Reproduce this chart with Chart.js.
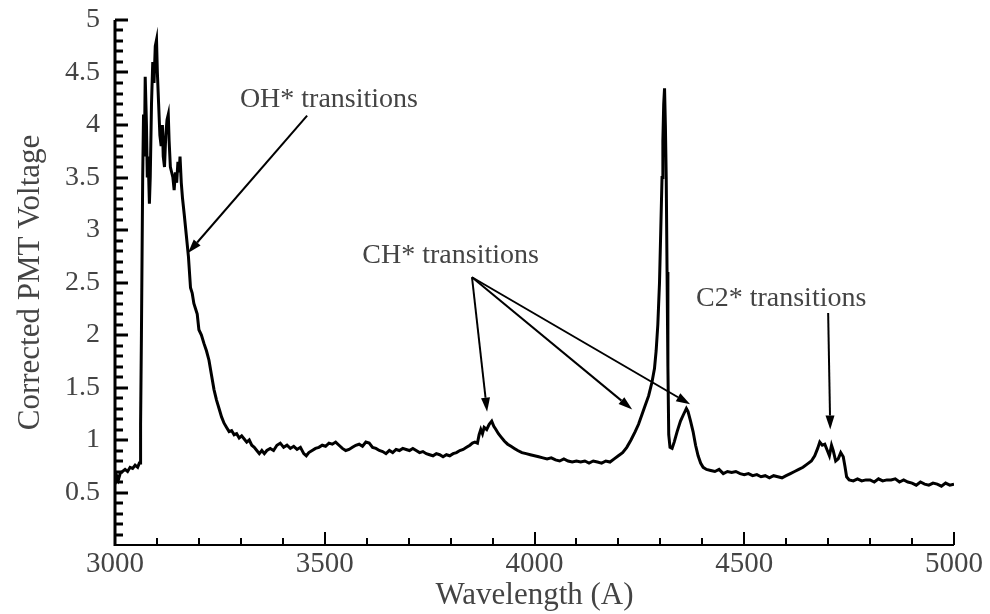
<!DOCTYPE html>
<html>
<head>
<meta charset="utf-8">
<script src="https://cdn.jsdelivr.net/npm/chart.js@4.4.1/dist/chart.umd.min.js"></script>
<style>
  body { margin: 0; background: #fff; }
  canvas { display: block; }
</style>
</head>
<body>
<canvas id="grafico" width="990" height="614"></canvas>
<script>
// comprimentos de onda (A)
const wl = [
  3000, 3004, 3008, 3013, 3018, 3024, 3030, 3036, 3042, 3048, 3054, 3058, 3060, 3061, 3063,
  3066, 3068, 3070, 3072, 3075, 3077, 3079, 3082, 3084, 3087, 3090, 3093, 3096, 3099, 3101,
  3104, 3107, 3110, 3113, 3115, 3118, 3121, 3124, 3127, 3129, 3132, 3135, 3138, 3141, 3144,
  3147, 3150, 3153, 3155, 3158, 3161, 3165, 3170, 3175, 3180, 3184, 3188, 3192, 3196, 3200,
  3206, 3212, 3218, 3224, 3230, 3236, 3242, 3248, 3254, 3260, 3266, 3272, 3278, 3284, 3290,
  3296, 3302, 3308, 3314, 3320, 3326, 3332, 3338, 3344, 3350, 3356, 3362, 3370, 3378, 3386,
  3394, 3402, 3410, 3418, 3426, 3434, 3442, 3450, 3456, 3462, 3470, 3478, 3486, 3494, 3502,
  3510, 3518, 3526, 3534, 3542, 3550, 3558, 3566, 3574, 3582, 3590, 3598, 3606, 3614, 3622,
  3630, 3638, 3646, 3654, 3662, 3670, 3678, 3686, 3694, 3702, 3710, 3718, 3726, 3734, 3742,
  3750, 3758, 3766, 3774, 3782, 3790, 3798, 3806, 3814, 3822, 3830, 3838, 3846, 3852, 3858,
  3864, 3868, 3872, 3876, 3880, 3886, 3892, 3898, 3903, 3908, 3914, 3920, 3928, 3936, 3944,
  3952, 3960, 3970, 3980, 3990, 4000, 4010, 4020, 4030, 4040, 4050, 4060, 4070, 4080, 4090,
  4100, 4110, 4120, 4130, 4140, 4150, 4160, 4170, 4180, 4190, 4200, 4210, 4220, 4230, 4240,
  4248, 4256, 4264, 4272, 4280, 4286, 4290, 4294, 4298, 4301, 4304, 4306, 4308, 4310, 4312,
  4314, 4316, 4318, 4320, 4323, 4328, 4333, 4340, 4348, 4356, 4362, 4366, 4372, 4378, 4384,
  4390, 4396, 4402, 4410, 4420, 4430, 4440, 4450, 4460, 4470, 4480, 4490, 4500, 4510, 4520,
  4530, 4540, 4550, 4560, 4570, 4580, 4590, 4600, 4610, 4620, 4630, 4640, 4650, 4660, 4668,
  4675, 4680, 4686, 4692, 4698, 4703, 4708, 4712, 4718, 4724, 4730, 4736, 4740, 4744, 4750,
  4760, 4770, 4780, 4790, 4800, 4810, 4820, 4830, 4840, 4850, 4860, 4870, 4880, 4890, 4900,
  4910, 4920, 4930, 4940, 4950, 4960, 4970, 4980, 4990, 5000
];

// tensão corrigida do PMT
const volt = [
  0.58, 0.66, 0.62, 0.69, 0.70, 0.72, 0.70, 0.74, 0.73, 0.76, 0.74, 0.78, 0.78, 1.15, 2.00,
  3.50, 4.10, 3.70, 4.46, 4.00, 3.50, 3.70, 3.25, 3.50, 4.20, 4.60, 4.40, 4.75, 4.81, 4.50,
  4.20, 3.90, 3.80, 4.00, 3.70, 3.60, 3.90, 4.05, 4.10, 3.85, 3.60, 3.55, 3.50, 3.38, 3.55,
  3.45, 3.65, 3.55, 3.70, 3.45, 3.30, 3.15, 2.95, 2.75, 2.45, 2.40, 2.30, 2.25, 2.20, 2.05,
  2.00, 1.92, 1.85, 1.76, 1.62, 1.48, 1.38, 1.30, 1.22, 1.16, 1.12, 1.08, 1.09, 1.05, 1.06,
  1.02, 1.04, 1.01, 0.98, 1.00, 0.95, 0.93, 0.90, 0.87, 0.90, 0.87, 0.90, 0.92, 0.90, 0.95,
  0.97, 0.93, 0.95, 0.92, 0.94, 0.91, 0.93, 0.87, 0.85, 0.88, 0.90, 0.92, 0.93, 0.95, 0.94,
  0.97, 0.96, 0.98, 0.95, 0.92, 0.90, 0.91, 0.93, 0.95, 0.96, 0.94, 0.98, 0.97, 0.93, 0.92,
  0.90, 0.89, 0.87, 0.90, 0.88, 0.91, 0.90, 0.92, 0.91, 0.90, 0.92, 0.90, 0.88, 0.89, 0.87,
  0.86, 0.85, 0.87, 0.86, 0.84, 0.86, 0.85, 0.87, 0.88, 0.90, 0.91, 0.93, 0.95, 0.97, 0.98,
  0.97, 1.05, 1.10, 1.06, 1.12, 1.10, 1.15, 1.18, 1.13, 1.10, 1.06, 1.03, 0.99, 0.96, 0.94,
  0.92, 0.90, 0.88, 0.87, 0.86, 0.85, 0.84, 0.83, 0.82, 0.83, 0.81, 0.80, 0.82, 0.80, 0.79,
  0.80, 0.79, 0.80, 0.78, 0.80, 0.79, 0.78, 0.80, 0.79, 0.82, 0.85, 0.88, 0.93, 1.00, 1.08,
  1.15, 1.24, 1.33, 1.42, 1.55, 1.68, 1.85, 2.10, 2.50, 3.00, 3.50, 3.85, 4.20, 4.35, 4.00,
  3.50, 2.60, 1.70, 1.05, 0.93, 0.92, 0.98, 1.08, 1.18, 1.25, 1.30, 1.27, 1.18, 1.08, 0.95,
  0.85, 0.78, 0.74, 0.72, 0.71, 0.70, 0.72, 0.68, 0.70, 0.69, 0.70, 0.68, 0.67, 0.68, 0.66,
  0.67, 0.65, 0.66, 0.64, 0.66, 0.65, 0.64, 0.66, 0.68, 0.70, 0.72, 0.74, 0.77, 0.80, 0.85,
  0.92, 0.98, 0.95, 0.96, 0.90, 0.85, 0.95, 0.90, 0.80, 0.82, 0.88, 0.84, 0.75, 0.65, 0.62,
  0.61, 0.63, 0.61, 0.62, 0.62, 0.60, 0.63, 0.61, 0.62, 0.62, 0.63, 0.60, 0.62, 0.60, 0.59,
  0.57, 0.60, 0.58, 0.57, 0.59, 0.58, 0.56, 0.59, 0.57, 0.58
];

// rótulos dos eixos
const yTicks = [0.5, 1, 1.5, 2, 2.5, 3, 3.5, 4, 4.5, 5];
const xTicks = [3000, 3500, 4000, 4500, 5000];

// anotações (texto em coordenadas de dados)
const notasTexto = ['OH* transitions', 'CH* transitions', 'C2* transitions'];
const notasX = [3510, 3800, 4588];
const notasY = [4.24, 2.76, 2.35];

// setas: início (x0,y0) -> ponta (x1,y1)
const setaX0 = [3458, 3851, 3851, 3851, 4700];
const setaY0 = [4.09, 2.55, 2.55, 2.55, 2.21];
const setaX1 = [3174, 3887, 4233, 4371, 4705];
const setaY1 = [2.78, 1.27, 1.29, 1.34, 1.10];

const FONTE = "'Liberation Serif', 'Times New Roman', serif";
const CINZA = '#444';

const pontos = wl.map((x, i) => ({ x, y: volt[i] }));

const eixosPlugin = {
  id: 'eixos',
  afterDatasetsDraw(chart) {
    const { ctx, chartArea, scales } = chart;
    const sx = scales.x, sy = scales.y;
    ctx.save();
    ctx.strokeStyle = '#000';
    // marcas do eixo y (para dentro)
    ctx.lineWidth = 3;
    for (let i = 1; i <= 50; i++) {
      const v = i / 10;
      const py = Math.round(sy.getPixelForValue(v));
      const len = (i % 5 === 0) ? 13 : 8;
      ctx.beginPath();
      ctx.moveTo(chartArea.left, py);
      ctx.lineTo(chartArea.left + len, py);
      ctx.stroke();
    }
    // marcas do eixo x
    ctx.lineWidth = 2;
    for (let v = 3100; v <= 5000; v += 100) {
      const px = Math.round(sx.getPixelForValue(v));
      const len = (v % 500 === 0) ? 13 : 7;
      ctx.beginPath();
      ctx.moveTo(px, chartArea.bottom);
      ctx.lineTo(px, chartArea.bottom - len);
      ctx.stroke();
    }
    // linhas dos eixos
    ctx.lineWidth = 3;
    ctx.beginPath();
    ctx.moveTo(chartArea.left, chartArea.top);
    ctx.lineTo(chartArea.left, chartArea.bottom + 1);
    ctx.stroke();
    ctx.lineWidth = 2;
    ctx.beginPath();
    ctx.moveTo(chartArea.left, chartArea.bottom);
    ctx.lineTo(chartArea.right, chartArea.bottom);
    ctx.stroke();

    // setas
    ctx.fillStyle = '#000';
    ctx.lineWidth = 2;
    for (let i = 0; i < setaX0.length; i++) {
      const x0 = sx.getPixelForValue(setaX0[i]), y0 = sy.getPixelForValue(setaY0[i]);
      const x1 = sx.getPixelForValue(setaX1[i]), y1 = sy.getPixelForValue(setaY1[i]);
      const ang = Math.atan2(y1 - y0, x1 - x0);
      const cab = 14, lar = 4.5;
      const bx = x1 - cab * Math.cos(ang), by = y1 - cab * Math.sin(ang);
      ctx.beginPath();
      ctx.moveTo(x0, y0);
      ctx.lineTo(bx, by);
      ctx.stroke();
      ctx.beginPath();
      ctx.moveTo(x1, y1);
      ctx.lineTo(bx + lar * Math.sin(ang), by - lar * Math.cos(ang));
      ctx.lineTo(bx - lar * Math.sin(ang), by + lar * Math.cos(ang));
      ctx.closePath();
      ctx.fill();
    }

    // textos
    ctx.fillStyle = CINZA;
    ctx.font = '28px ' + FONTE;
    ctx.textAlign = 'center';
    ctx.textBaseline = 'middle';
    notasTexto.forEach((t, i) => {
      ctx.fillText(t, sx.getPixelForValue(notasX[i]), sy.getPixelForValue(notasY[i]));
    });
    ctx.restore();
  }
};

new Chart(document.getElementById('grafico'), {
  type: 'line',
  data: {
    datasets: [{
      data: pontos,
      borderColor: '#000',
      borderWidth: 3,
      pointRadius: 0,
      tension: 0,
      fill: false
    }]
  },
  options: {
    responsive: false,
    animation: false,
    layout: { padding: { top: 20, right: 36, left: 0, bottom: 0 } },
    plugins: { legend: { display: false }, tooltip: { enabled: false } },
    scales: {
      x: {
        type: 'linear',
        min: 3000,
        max: 5000,
        afterFit(s) {
          s.height = 69;
          s.paddingLeft = 0; s.paddingRight = 0; s.paddingTop = 0; s.paddingBottom = 0;
        },
        afterBuildTicks(s) { s.ticks = xTicks.map(v => ({ value: v })); },
        grid: { display: false, drawTicks: false },
        border: { display: false },
        ticks: {
          padding: 2,
          autoSkip: false,
          maxRotation: 0,
          color: CINZA,
          font: { family: FONTE, size: 29 },
          callback: v => String(v)
        },
        title: {
          display: true,
          text: 'Wavelength (A)',
          color: CINZA,
          font: { family: FONTE, size: 31 },
          padding: { top: 0, bottom: 0 }
        }
      },
      y: {
        type: 'linear',
        min: 0,
        max: 5,
        afterFit(s) {
          s.width = 115;
          s.paddingLeft = 0; s.paddingRight = 0; s.paddingTop = 0; s.paddingBottom = 0;
        },
        afterBuildTicks(s) { s.ticks = yTicks.map(v => ({ value: v })); },
        grid: { display: false, drawTicks: false },
        border: { display: false },
        ticks: {
          padding: 15,
          color: CINZA,
          font: { family: FONTE, size: 28 },
          callback: v => String(v)
        },
        title: {
          display: true,
          text: 'Corrected PMT Voltage',
          color: CINZA,
          font: { family: FONTE, size: 31 },
          padding: { top: 12, bottom: 0 }
        }
      }
    }
  },
  plugins: [eixosPlugin]
});
</script>
</body>
</html>
